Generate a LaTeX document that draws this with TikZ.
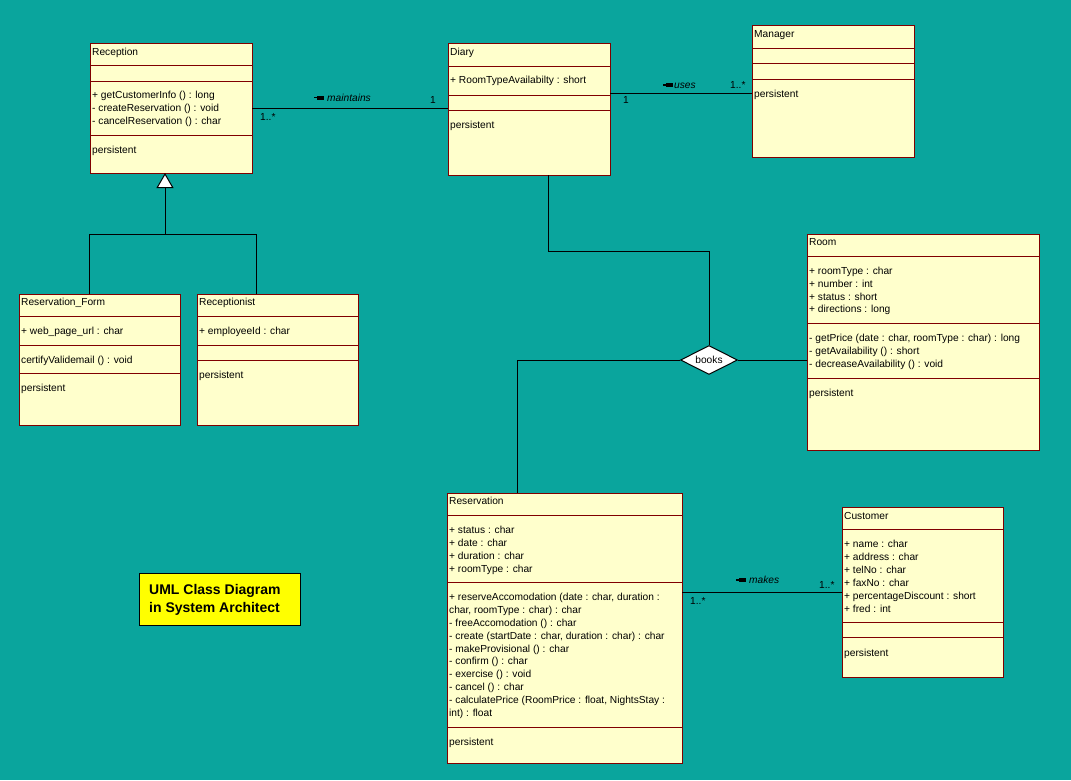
\documentclass[tikz,border=0pt]{standalone}
\usepackage{fontspec}
\setmainfont{Liberation Sans}
\usetikzlibrary{shapes.geometric,arrows.meta}
\definecolor{bg}{RGB}{10,165,157}
\definecolor{boxfill}{RGB}{255,255,204}
\definecolor{boxline}{RGB}{128,0,0}
\definecolor{legendfill}{RGB}{255,255,0}
\newcommand\lmark[2]{\fill (#1,#2-0.6) rectangle (#1+4,#2+0.6); \fill (#1+3,#2-2.2) rectangle (#1+10,#2+2.2);}
\begin{document}
\begin{tikzpicture}[x=1pt,y=-1pt,
 cls/.style={draw=boxline, fill=boxfill, line width=1pt, anchor=north west, inner sep=0pt, outer sep=0pt},
 sep/.style={draw=boxline, line width=1pt},
 t/.style={anchor=base west, inner sep=0pt, font=\fontsize{10.2}{12}\selectfont},
 rl/.style={anchor=base west, inner sep=0pt, font=\fontsize{10.2}{12}\selectfont\itshape},
 conn/.style={draw=black, line width=1pt},
 leg/.style={anchor=base west, inner sep=0pt, font=\fontsize{14}{16}\selectfont\bfseries},
]
\fill[bg] (0,0) rectangle (1071,780);
\useasboundingbox (0,0) rectangle (1071,780);

\coordinate (d1) at (548,251);
\coordinate (r1) at (517,360);
\coordinate (gm) at (165,234);
\coordinate (gl) at (89.5,234);
\coordinate (gr) at (256.5,234);

% ---------- class boxes ----------
\node[cls, minimum width=162, minimum height=130] (reception) at (90,43) {};
\node[cls, minimum width=162, minimum height=132] (diary) at (448,43) {};
\node[cls, minimum width=162, minimum height=132] (manager) at (752,25) {};
\node[cls, minimum width=232, minimum height=216] (room) at (807,234) {};
\node[cls, minimum width=235, minimum height=270] (reservation) at (447,493) {};
\node[cls, minimum width=161, minimum height=170] (customer) at (842,507) {};
\node[cls, minimum width=161, minimum height=131] (rform) at (19,294) {};
\node[cls, minimum width=161, minimum height=131] (rcpt) at (197,294) {};

% Reception
\draw[sep] (90,65) -- (252,65);
\draw[sep] (90,81) -- (252,81);
\draw[sep] (90,135) -- (252,135);
\node[t] (rec-t) at (92,55) {Reception};
\node[t] (rec-m1) at (92,98) {+ getCustomerInfo () : long};
\node[t] (rec-m2) at (92,111) {- createReservation () : void};
\node[t] (rec-m3) at (92,124) {- cancelReservation () : char};
\node[t] (rec-p) at (92,153) {persistent};

% Diary
\draw[sep] (448,66) -- (610,66);
\draw[sep] (448,95) -- (610,95);
\draw[sep] (448,110) -- (610,110);
\node[t] (dia-t) at (450,55.5) {Diary};
\node[t] (dia-a1) at (450,83) {+ RoomTypeAvailabilty : short};
\node[t] (dia-p) at (450,128) {persistent};

% Manager
\draw[sep] (752,48) -- (914,48);
\draw[sep] (752,63) -- (914,63);
\draw[sep] (752,79) -- (914,79);
\node[t] (man-t) at (754,37.5) {Manager};
\node[t] (man-p) at (754,97) {persistent};

% Room
\draw[sep] (807,256) -- (1039,256);
\draw[sep] (807,323) -- (1039,323);
\draw[sep] (807,378) -- (1039,378);
\node[t] (room-t) at (809,245.5) {Room};
\node[t] (room-a1) at (809,274.5) {+ roomType : char};
\node[t] (room-a2) at (809,287.2) {+ number : int};
\node[t] (room-a3) at (809,300) {+ status : short};
\node[t] (room-a4) at (809,312.5) {+ directions : long};
\node[t] (room-m1) at (809,341.5) {- getPrice (date : char, roomType : char) : long};
\node[t] (room-m2) at (809,354.2) {- getAvailability () : short};
\node[t] (room-m3) at (809,367) {- decreaseAvailability () : void};
\node[t] (room-p) at (809,396) {persistent};

% Reservation
\draw[sep] (447,515.7) -- (682,515.7);
\draw[sep] (447,582.3) -- (682,582.3);
\draw[sep] (447,727.3) -- (682,727.3);
\node[t] (res-t) at (449,504) {Reservation};
\node[t] (res-a1) at (449,533.5) {+ status : char};
\node[t] (res-a2) at (449,546.4) {+ date : char};
\node[t] (res-a3) at (449,559.3) {+ duration : char};
\node[t] (res-a4) at (449,572.2) {+ roomType : char};
\node[t] (res-m1) at (449,600.5) {+ reserveAccomodation (date : char, duration :};
\node[t] (res-m2) at (449,613.4) {char, roomType : char) : char};
\node[t] (res-m3) at (449,626.2) {- freeAccomodation () : char};
\node[t] (res-m4) at (449,639.1) {- create (startDate : char, duration : char) : char};
\node[t] (res-m5) at (449,652) {- makeProvisional () : char};
\node[t] (res-m6) at (449,664.8) {- confirm () : char};
\node[t] (res-m7) at (449,677.7) {- exercise () : void};
\node[t] (res-m8) at (449,690.6) {- cancel () : char};
\node[t] (res-m9) at (449,703.4) {- calculatePrice (RoomPrice : float, NightsStay :};
\node[t] (res-m10) at (449,716.3) {int) : float};
\node[t] (res-p) at (449,745.5) {persistent};

% Customer
\draw[sep] (842,529.3) -- (1003,529.3);
\draw[sep] (842,622.3) -- (1003,622.3);
\draw[sep] (842,637.7) -- (1003,637.7);
\node[t] (cus-t) at (844,519) {Customer};
\node[t] (cus-a1) at (844,547) {+ name : char};
\node[t] (cus-a2) at (844,560) {+ address : char};
\node[t] (cus-a3) at (844,573) {+ telNo : char};
\node[t] (cus-a4) at (844,586) {+ faxNo : char};
\node[t] (cus-a5) at (844,599) {+ percentageDiscount : short};
\node[t] (cus-a6) at (844,612) {+ fred : int};
\node[t] (cus-p) at (844,656) {persistent};

% Reservation_Form
\draw[sep] (19,316) -- (180,316);
\draw[sep] (19,345) -- (180,345);
\draw[sep] (19,373) -- (180,373);
\node[t] (rf-t) at (21,305.5) {Reservation\_Form};
\node[t] (rf-a1) at (21,334.5) {+ web\_page\_url : char};
\node[t] (rf-m1) at (21,363.5) {certifyValidemail () : void};
\node[t] (rf-p) at (21,391) {persistent};

% Receptionist
\draw[sep] (197,316) -- (358,316);
\draw[sep] (197,345) -- (358,345);
\draw[sep] (197,360) -- (358,360);
\node[t] (rc-t) at (199,305.5) {Receptionist};
\node[t] (rc-a1) at (199,334.5) {+ employeeId : char};
\node[t] (rc-p) at (199,378) {persistent};

% ---------- association diamond ----------
\node[diamond, draw=black, fill=white, line width=1pt, minimum width=57, minimum height=29, aspect=2, inner sep=0pt, font=\fontsize{10.2}{12}\selectfont] (books) at (709,360) {books};

% ---------- connectors ----------
\draw[conn] (reception.east) -- (reception.east -| diary.west);
\draw[conn] (diary.east |- manager.west) ++(0,2) coordinate (du) -- (du -| manager.west);
\draw[conn] (diary.south -| d1) -- (d1) -- (d1 -| books.north) -- (books.north);
\draw[conn] (books.east) -- (books.east -| room.west);
\draw[conn] (books.west) -- (r1) -- (reservation.north -| r1);
\draw[conn] (customer.west) -- (customer.west -| reservation.east);
\draw[conn] (rform.north -| gl) -- (gl) -- (gr) -- (rcpt.north -| gr);
\draw[conn, -{Triangle[length=15pt,width=17pt,fill=white,line width=1pt]}] (gm) -- (reception.south -| gm);

% ---------- association labels ----------
\lmark{314}{97.7}
\node[rl] (l-maint) at (327,101) {maintains};
\node[t] (m-one) at (430,103.5) {1};
\node[t] (m-many) at (260,120.5) {1..*};

\lmark{663}{85}
\node[rl] (l-uses) at (674,88.5) {uses};
\node[t] (u-many) at (730,88.5) {1..*};
\node[t] (u-one) at (623,103.5) {1};

\lmark{736}{580}
\node[rl] (l-makes) at (749,583.5) {makes};
\node[t] (k-many1) at (819,588) {1..*};
\node[t] (k-many2) at (690,604) {1..*};

% ---------- legend ----------
\node[draw=black, fill=legendfill, line width=1pt, anchor=north west, minimum width=161, minimum height=52, inner sep=0pt] (legend) at (139,573) {};
\node[leg] (leg1) at (149,594.7) {UML Class Diagram};
\node[leg] (leg2) at (149,612.3) {in System Architect};
\end{tikzpicture}
\end{document}
